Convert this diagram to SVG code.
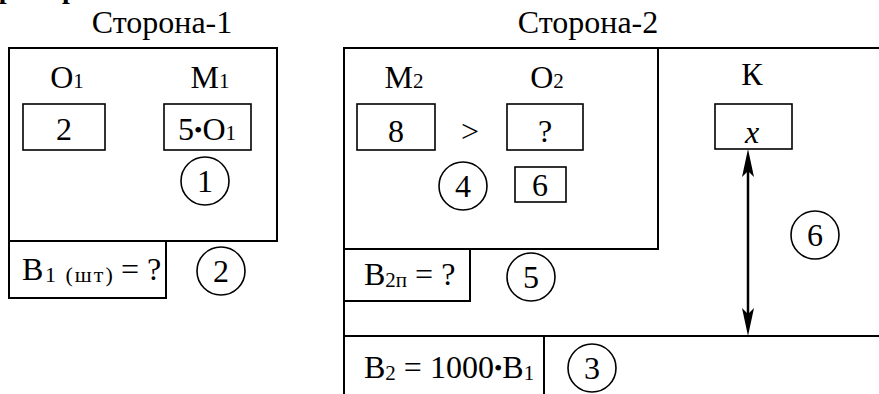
<svg xmlns="http://www.w3.org/2000/svg" width="879" height="394" viewBox="0 0 879 394">
<style>
text{font-family:"Liberation Serif","Times New Roman",serif;font-size:32px;fill:#000}
.m{text-anchor:middle}
.s{font-size:21px}
.d{font-size:24px}
.fr{fill:none;stroke:#000;stroke-width:2}
.bx{fill:none;stroke:#000;stroke-width:1.6}
.c{fill:none;stroke:#000;stroke-width:1.6}
.ar{stroke:#000;stroke-width:2.5;fill:none}
.ah{fill:#000;stroke:none}
</style>
<text x="-23" y="-2" style="font-weight:bold;font-size:28px">Пример</text>

<g id="side1">
  <text class="m" x="162" y="33">Сторона-1</text>
  <rect class="fr" x="9" y="48" width="268" height="193"/>
</g>
<g id="o1">
  <text class="m" x="67" y="88">О<tspan class="s">1</tspan></text>
  <rect class="bx" x="23" y="104" width="82" height="46"/>
  <text class="m" x="64" y="140">2</text>
</g>
<g id="m1">
  <text class="m" x="210" y="88">М<tspan class="s">1</tspan></text>
  <rect class="bx" x="164" y="104" width="87" height="46"/>
  <text class="m" x="207" y="140">5<tspan class="d" dy="-2">•</tspan><tspan dy="2">О</tspan><tspan class="s">1</tspan></text>
</g>
<g id="c1">
  <circle class="c" cx="205" cy="181" r="24"/>
  <text class="m" x="205" y="192">1</text>
</g>
<g id="b1">
  <rect class="fr" x="9" y="241" width="157" height="57"/>
  <text x="22" y="280">В<tspan x="45" dy="2" style="font-size:22px;letter-spacing:2px">1 (шт)</tspan><tspan x="121" dy="-2">= ?</tspan></text>
</g>
<g id="c2">
  <circle class="c" cx="221" cy="271" r="24"/>
  <text class="m" x="221" y="282">2</text>
</g>

<g id="side2">
  <text class="m" x="588" y="33">Сторона-2</text>
  <path class="fr" d="M879 48H344V394M344 249H658V48M344 336H879"/>
</g>
<g id="m2">
  <text class="m" x="404" y="88">М<tspan class="s">2</tspan></text>
  <rect class="bx" x="357" y="104" width="78" height="46"/>
  <text class="m" x="396" y="142">8</text>
</g>
<g id="gt">
  <text class="m" x="470" y="142">&gt;</text>
</g>
<g id="o2">
  <text class="m" x="547" y="88">О<tspan class="s">2</tspan></text>
  <rect class="bx" x="507" y="104" width="76" height="46"/>
  <text class="m" x="545" y="142">?</text>
</g>
<g id="c4">
  <circle class="c" cx="463" cy="186" r="24"/>
  <text class="m" x="463" y="197">4</text>
</g>
<g id="v6">
  <rect class="bx" x="515" y="167" width="51" height="35"/>
  <text class="m" x="540" y="196">6</text>
</g>
<g id="b2p">
  <path class="fr" d="M344 301H470V249"/>
  <text x="364" y="285">В<tspan class="s" dy="2">2п</tspan><tspan dy="-2"> = ?</tspan></text>
</g>
<g id="c5">
  <circle class="c" cx="531" cy="277" r="24"/>
  <text class="m" x="531" y="288">5</text>
</g>
<g id="b2">
  <path class="fr" d="M544 336V394"/>
  <text x="364" y="378">В<tspan class="s" dy="2">2</tspan><tspan dy="-2"> = 1000</tspan><tspan class="d" dy="-2">•</tspan><tspan dy="2">В</tspan><tspan class="s" dy="2">1</tspan></text>
</g>
<g id="c3">
  <circle class="c" cx="592" cy="368" r="24"/>
  <text class="m" x="592" y="379">3</text>
</g>
<g id="k">
  <text class="m" x="752" y="85">К</text>
  <rect class="bx" x="715" y="104" width="77" height="45"/>
  <text class="m" x="752" y="143" style="font-style:italic">x</text>
</g>
<g id="c6">
  <circle class="c" cx="815" cy="235" r="24"/>
  <text class="m" x="815" y="246">6</text>
</g>

<g id="connectors">
  <path class="ar" d="M748 160V325"/>
  <path class="ah" d="M748 149L754 177L748 171L742 177Z"/>
  <path class="ah" d="M748 336L754 308L748 314L742 308Z"/>
</g>
</svg>
